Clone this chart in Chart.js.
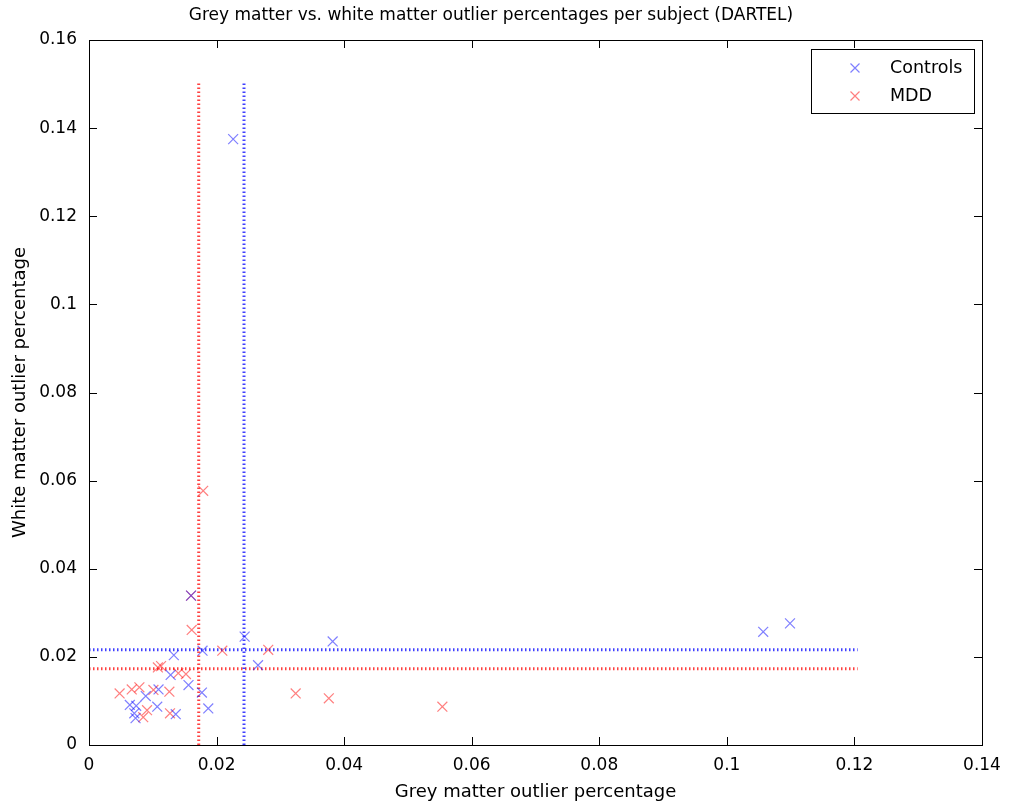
<!DOCTYPE html>
<html>
<head>
<meta charset="utf-8">
<script src="https://cdn.jsdelivr.net/npm/chart.js@4.4.1/dist/chart.umd.min.js"></script>
<style>
html,body{margin:0;padding:0;background:#fff;}
#wrap{width:1011px;height:809px;}
</style>
</head>
<body>
<div id="wrap"><canvas id="c" width="1011" height="809"></canvas></div>
<script>
// ---- data ----
const controlsGM = [0.0226,0.0160,0.0244,0.0178,0.0133,0.0265,0.0128,0.0156,0.0109,0.0177,0.0089,0.0064,0.0074,0.0107,0.0187,0.0071,0.0136,0.0073,0.0382,0.1057,0.1099];
const controlsWM = [0.1375,0.0339,0.0246,0.0214,0.0204,0.0181,0.0159,0.0136,0.0126,0.0119,0.0111,0.0091,0.0089,0.0087,0.0083,0.0072,0.0070,0.0061,0.0235,0.0257,0.0276];
const mddGM = [0.0160,0.0179,0.0161,0.0209,0.0281,0.0108,0.0113,0.0140,0.0152,0.0048,0.0067,0.0079,0.0101,0.0126,0.0324,0.0376,0.0554,0.0091,0.0085,0.0127];
const mddWM = [0.0339,0.0577,0.0261,0.0214,0.0216,0.0176,0.0179,0.0163,0.0161,0.0117,0.0126,0.0131,0.0125,0.0121,0.0117,0.0106,0.0087,0.0079,0.0063,0.0072];
// mean reference lines (vertical: grey matter mean, horizontal: white matter mean)
const controlsMeanGM = 0.0243;
const mddMeanGM = 0.0172;
const controlsMeanWM = 0.0216;
const mddMeanWM = 0.0173;
const vLineRange = [0, 0.1505];
const hLineRange = [0, 0.1205];
const xTicks = [0,0.02,0.04,0.06,0.08,0.1,0.12,0.14];
const yTicks = [0,0.02,0.04,0.06,0.08,0.1,0.12,0.14,0.16];
const seriesNames = ['Controls','MDD'];

const BLUE = 'rgba(0,0,255,0.5)';
const RED = 'rgba(255,0,0,0.5)';
const FONT = '"DejaVu Sans", "Liberation Sans", sans-serif';

const toPts = (xs, ys) => xs.map((x,i)=>({x:x, y:ys[i]}));

const lineDs = (data, color) => ({
  type:'line', data:data, borderColor:color, borderWidth:3, borderDash:[1.5,2.5],
  pointRadius:0, fill:false, showLine:true, order:2
});

const datasets = [
  lineDs([{x:controlsMeanGM,y:vLineRange[0]},{x:controlsMeanGM,y:vLineRange[1]}], 'rgba(0,0,255,0.75)'),
  lineDs([{x:mddMeanGM,y:vLineRange[0]},{x:mddMeanGM,y:vLineRange[1]}], 'rgba(255,0,0,0.75)'),
  lineDs([{x:hLineRange[0],y:controlsMeanWM},{x:hLineRange[1],y:controlsMeanWM}], 'rgba(0,0,255,0.75)'),
  lineDs([{x:hLineRange[0],y:mddMeanWM},{x:hLineRange[1],y:mddMeanWM}], 'rgba(255,0,0,0.75)'),
  {type:'scatter', label:seriesNames[0], data:toPts(controlsGM,controlsWM), pointStyle:'crossRot', pointRadius:7, borderColor:BLUE, backgroundColor:BLUE, borderWidth:1.2, order:1},
  {type:'scatter', label:seriesNames[1], data:toPts(mddGM,mddWM), pointStyle:'crossRot', pointRadius:7, borderColor:RED, backgroundColor:RED, borderWidth:1.2, order:1}
];

const boxPlugin = {
  id:'boxPlugin',
  afterDraw(chart){
    const ctx = chart.ctx, a = chart.chartArea;
    const xs = chart.scales.x, ys = chart.scales.y;
    ctx.save();
    ctx.strokeStyle = '#000'; ctx.lineWidth = 1;
    ctx.strokeRect(Math.round(a.left)+0.5, Math.round(a.top)+0.5, Math.round(a.right-a.left), Math.round(a.bottom-a.top));
    const L = 8;
    ctx.beginPath();
    xTicks.forEach(v=>{
      const px = Math.round(xs.getPixelForValue(v))+0.5;
      ctx.moveTo(px, a.bottom); ctx.lineTo(px, a.bottom-L);
      ctx.moveTo(px, a.top); ctx.lineTo(px, a.top+L);
    });
    yTicks.forEach(v=>{
      const py = Math.round(ys.getPixelForValue(v))+0.5;
      ctx.moveTo(a.left, py); ctx.lineTo(a.left+L, py);
      ctx.moveTo(a.right, py); ctx.lineTo(a.right-L, py);
    });
    ctx.stroke();
    // legend box
    const lx = 811, ly = 49, lw = 163, lh = 64;
    ctx.fillStyle = '#fff';
    ctx.fillRect(lx, ly, lw, lh);
    ctx.strokeStyle = '#000';
    ctx.strokeRect(lx+0.5, ly+0.5, lw, lh);
    const cols = [BLUE, RED];
    ctx.font = '17.5px ' + FONT;
    ctx.textBaseline = 'middle';
    seriesNames.forEach((name,i)=>{
      const cy = ly + 19 + i*28;
      const cx = lx + 44;
      ctx.strokeStyle = cols[i]; ctx.lineWidth = 1.2;
      ctx.beginPath();
      ctx.moveTo(cx-4.5,cy-4.5); ctx.lineTo(cx+4.5,cy+4.5);
      ctx.moveTo(cx+4.5,cy-4.5); ctx.lineTo(cx-4.5,cy+4.5);
      ctx.stroke();
      ctx.fillStyle = '#000';
      ctx.fillText(name, lx + 79, cy);
    });
    ctx.restore();
  }
};

new Chart(document.getElementById('c'), {
  type:'scatter',
  data:{datasets:datasets},
  options:{
    responsive:false, animation:false, maintainAspectRatio:false,
    layout:{padding:{left:0,right:29,top:0,bottom:0}},
    plugins:{
      legend:{display:false},
      tooltip:{enabled:false},
      title:{display:true, text:'Grey matter vs. white matter outlier percentages per subject (DARTEL)',
        color:'#000', font:{family:FONT, size:17, weight:'normal'}, padding:{top:5,bottom:14.6}}
    },
    scales:{
      x:{type:'linear', min:0, max:0.14,
        afterBuildTicks(s){ s.ticks = xTicks.map(v=>({value:v})); },
        afterFit(s){ s.height = 64; },
        ticks:{color:'#000', font:{family:FONT,size:17}, padding:10, maxRotation:0, autoSkip:false,
          callback:(v)=>String(+v.toFixed(2))},
        grid:{display:false, drawTicks:false},
        border:{display:true, color:'#000'},
        title:{display:true, text:'Grey matter outlier percentage', color:'#000', font:{family:FONT,size:18}, padding:{top:0,bottom:6}}
      },
      y:{type:'linear', min:0, max:0.16,
        afterBuildTicks(s){ s.ticks = yTicks.map(v=>({value:v})); },
        afterFit(s){ s.width = 89; },
        ticks:{color:'#000', font:{family:FONT,size:17}, padding:12, autoSkip:false,
          callback:(v)=>String(+v.toFixed(2))},
        grid:{display:false, drawTicks:false},
        border:{display:true, color:'#000'},
        title:{display:true, text:'White matter outlier percentage', color:'#000', font:{family:FONT,size:18}, padding:{top:10,bottom:0}}
      }
    }
  },
  plugins:[boxPlugin]
});
</script>
</body>
</html>
